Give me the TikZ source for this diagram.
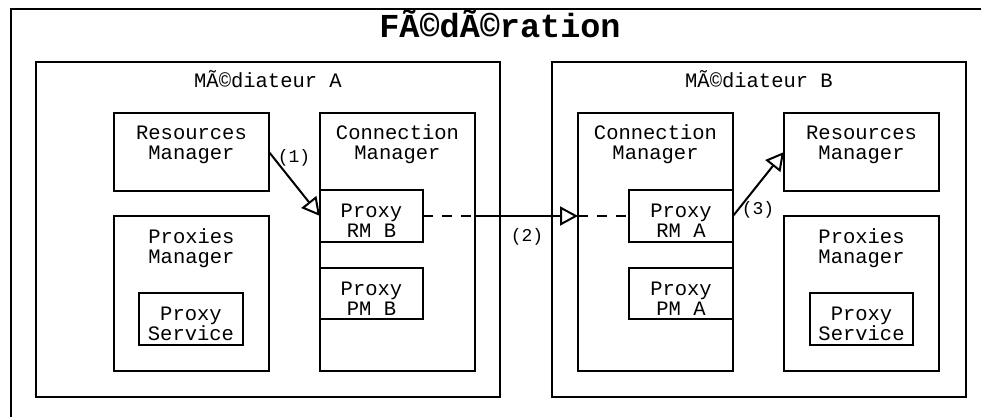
\documentclass[tikz,border=0pt]{standalone}
\usepackage{fontspec}
\setmainfont{Liberation Mono}
\usetikzlibrary{arrows.meta}
\newcommand{\firstline}[1]{\rule{0pt}{#1bp}}
\newcommand{\bxfont}{\fontsize{20.5bp}{20bp}\selectfont}
\newcommand{\numfont}{\fontsize{18bp}{18bp}\selectfont}
\newcommand{\ttlfont}{\fontsize{33.5bp}{34bp}\selectfont\bfseries}
\tikzset{
  box/.style={draw, line width=2bp, inner sep=0pt, outer sep=0pt, anchor=north west},
  lbl/.style={anchor=north, inner sep=0pt, outer sep=0pt, align=center, font=\bxfont},
  num/.style={inner sep=0pt, font=\numfont},
  arr/.style={line width=2bp, -{Triangle[open, length=18bp, width=19bp]}},
  dsh/.style={line width=2bp, dash pattern=on 10bp off 9bp},
  sol/.style={line width=2bp}
}
\begin{document}
\begin{tikzpicture}[x=1bp, y=-1bp]
\useasboundingbox (0,0) rectangle (981,416);
\begin{scope}
\clip (0,0) rectangle (981,416);
% outer frame
\node[box, minimum width=1000bp, minimum height=430bp] (fed) at (11,9) {};
\node[anchor=north, inner sep=0pt, font=\ttlfont] (tfed) at (500,9) {\firstline{27}FÃ©dÃ©ration};
% mediateurs
\node[box, minimum width=464bp, minimum height=335bp] (medA) at (36,62) {};
\node[lbl] (tmedA) at (medA.north) {\firstline{25}MÃ©diateur A};
\node[box, minimum width=414bp, minimum height=335bp] (medB) at (552,62) {};
\node[lbl] (tmedB) at (medB.north) {\firstline{25}MÃ©diateur B};
% Mediateur A contents
\node[box, minimum width=155bp, minimum height=78bp] (resA) at (114,113) {};
\node[lbl] (tresA) at (resA.north) {\firstline{26}Resources\\Manager};
\node[box, minimum width=155bp, minimum height=258bp] (cmA) at (320,113) {};
\node[lbl] (tcmA) at (cmA.north) {\firstline{26}Connection\\Manager};
\node[box, minimum width=155bp, minimum height=155bp] (pmA) at (114,216) {};
\node[lbl] (tpmA) at (pmA.north) {\firstline{27}Proxies\\Manager};
\node[box, minimum width=104bp, minimum height=52bp] (psA) at (139,293) {};
\node[lbl] (tpsA) at (psA.north) {\firstline{27}Proxy\\Service};
\node[box, minimum width=103bp, minimum height=52bp] (prmB) at (320,190) {};
\node[lbl] (tprmB) at (prmB.north) {\firstline{27}Proxy\\RM B};
\node[box, minimum width=103bp, minimum height=51bp] (ppmB) at (320,268) {};
\node[lbl] (tppmB) at (ppmB.north) {\firstline{27}Proxy\\PM B};
% Mediateur B contents
\node[box, minimum width=155bp, minimum height=258bp] (cmB) at (578,113) {};
\node[lbl] (tcmB) at (cmB.north) {\firstline{26}Connection\\Manager};
\node[box, minimum width=155bp, minimum height=78bp] (resB) at (784,113) {};
\node[lbl] (tresB) at (resB.north) {\firstline{26}Resources\\Manager};
\node[box, minimum width=104bp, minimum height=52bp] (prmA) at (629,190) {};
\node[lbl] (tprmA) at (prmA.north) {\firstline{27}Proxy\\RM A};
\node[box, minimum width=104bp, minimum height=51bp] (ppmA) at (629,268) {};
\node[lbl] (tppmA) at (ppmA.north) {\firstline{27}Proxy\\PM A};
\node[box, minimum width=155bp, minimum height=155bp] (pmB) at (784,216) {};
\node[lbl] (tpmB) at (pmB.north) {\firstline{27}Proxies\\Manager};
\node[box, minimum width=103bp, minimum height=52bp] (psB) at (810,293) {};
\node[lbl] (tpsB) at (psB.north) {\firstline{27}Proxy\\Service};
% connectors
\draw[arr] (resA.east) -- (prmB.west);
\draw[dsh] (prmB.east) -- (prmB.east -| cmA.east);
\draw[arr] (prmB.east -| cmA.east) -- (prmA.west -| cmB.west);
\draw[dsh] (prmA.west -| cmB.west) -- (prmA.west);
\draw[arr] (prmA.east) -- (resB.west);
\node[num] (l1) at (294,158) {(1)};
\node[num] (l2) at (527,237) {(2)};
\node[num] (l3) at (758,210) {(3)};
\end{scope}
\end{tikzpicture}
\end{document}
